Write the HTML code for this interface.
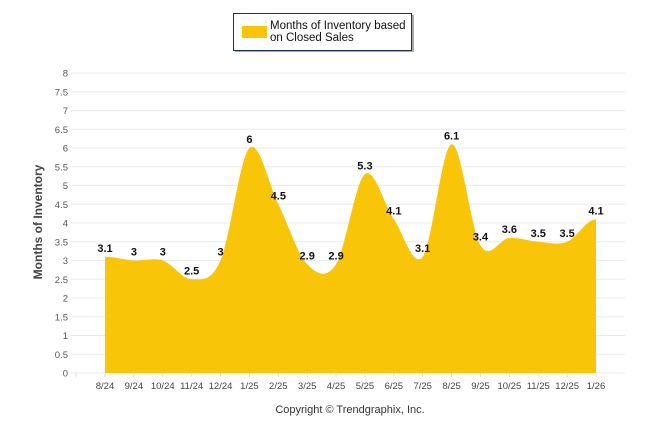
<!DOCTYPE html>
<html><head><meta charset="utf-8"><style>
body{margin:0;background:#fff;font-family:"Liberation Sans",sans-serif}
svg text{font-family:"Liberation Sans",sans-serif}
</style></head><body>
<svg id="c" width="646" height="434">
<g>
<rect x="235" y="15" width="179" height="37" fill="#555" opacity="0.5"/>
<rect x="233.5" y="13.5" width="178" height="37" fill="#fff" stroke="#1f3050" stroke-width="1"/>
<rect x="242" y="26" width="25" height="12" fill="#f8c508"/>
<text x="270" y="29" font-size="11.5" fill="#111">Months of Inventory based</text>
<text x="270" y="41" font-size="11.5" fill="#111">on Closed Sales</text>
</g>
<text transform="translate(42,222) rotate(-90)" text-anchor="middle" font-size="12" font-weight="bold" fill="#444">Months of Inventory</text>
<text x="350" y="413" text-anchor="middle" font-size="11" fill="#333">Copyright © Trendgraphix, Inc.</text>
<g id="grid"></g><g id="plot"></g>
</svg>
<script>
const categories=["8/24","9/24","10/24","11/24","12/24","1/25","2/25","3/25","4/25","5/25","6/25","7/25","8/25","9/25","10/25","11/25","12/25","1/26"];
const values=[3.1,3,3,2.5,3,6,4.5,2.9,2.9,5.3,4.1,3.1,6.1,3.4,3.6,3.5,3.5,4.1];
const yTicks=[0,0.5,1,1.5,2,2.5,3,3.5,4,4.5,5,5.5,6,6.5,7,7.5,8];
const ns="http://www.w3.org/2000/svg";
const y0=373,y8=73,x0=105,x1=596;
const Y=v=>y0-(v/8)*(y0-y8);
const X=i=>x0+i*(x1-x0)/(categories.length-1);
const grid=document.getElementById('grid'),plot=document.getElementById('plot');
function mk(t,a,p){const e=document.createElementNS(ns,t);for(const k in a)e.setAttribute(k,a[k]);p.appendChild(e);return e;}
yTicks.forEach(v=>{
 const l=mk('line',{x1:71,x2:625,y1:Y(v),y2:Y(v),stroke:'#ebebeb'},grid);
 
 
 const t=mk('text',{x:68,y:Y(v)+3.5,'text-anchor':'end','font-size':9.5,fill:'#555'},grid);
 t.textContent=v;
 
 
});
const step=(x1-x0)/(categories.length-1);
for(let i=-1;i<categories.length;i++){mk('line',{x1:X(i),x2:X(i),y1:y0,y2:y0+4,stroke:'#ddd'},grid);}
categories.forEach((c,i)=>{
 const t=mk('text',{x:X(i),y:y0+16,'text-anchor':'middle','font-size':9.5,fill:'#444'},grid);
 t.textContent=c;
 
 
});
const pts=values.map((v,i)=>[X(i),Y(v)]);
let d=`M${pts[0][0]},${pts[0][1]}`;
const s=0.5;
for(let i=0;i<pts.length-1;i++){
 const p0=pts[i-1]||pts[i],p1=pts[i],p2=pts[i+1],p3=pts[i+2]||p2;
 const c1=[p1[0]+step/3,p1[1]+(p2[1]-p0[1])*s/3*(i==0?0:1)];
 const c2=[p2[0]-step/3,p2[1]-(p3[1]-p1[1])*s/3*(i+2>=pts.length?0:1)];
 d+=` C${c1[0]},${c1[1]} ${c2[0]},${c2[1]} ${p2[0]},${p2[1]}`;
}
d+=` L${X(values.length-1)},${y0} L${X(0)},${y0} Z`;
const a=mk('path',{d:d,fill:'#f8c508'},plot);


values.forEach((v,i)=>{
 const t=mk('text',{x:X(i),y:Y(v)-5,'text-anchor':'middle','font-size':11,'font-weight':'bold',fill:'#111'},plot);
 t.textContent=v;
 
 
});
</script>
</body></html>
